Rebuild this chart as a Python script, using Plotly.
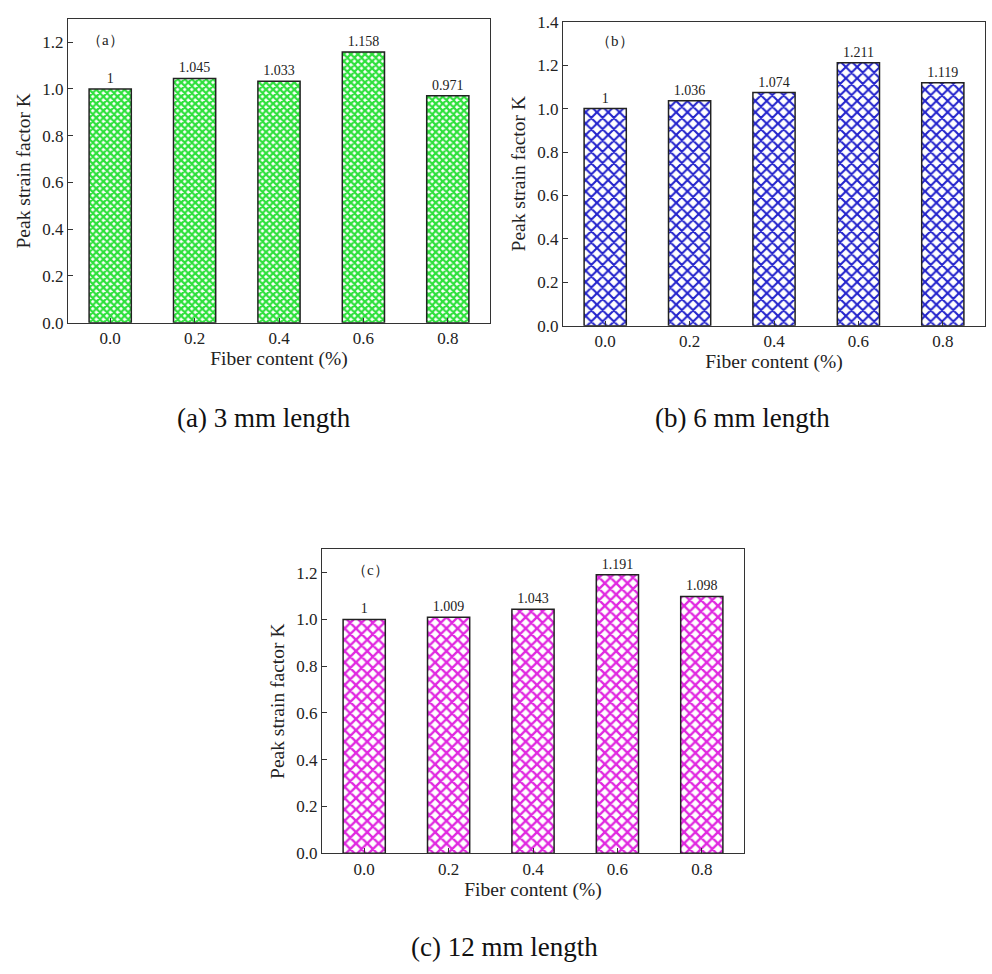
import plotly.graph_objects as go

categories = ["0.0", "0.2", "0.4", "0.6", "0.8"]
values_a = [1.0, 1.045, 1.033, 1.158, 0.971]
values_b = [1.0, 1.036, 1.074, 1.211, 1.119]
values_c = [1.0, 1.009, 1.043, 1.191, 1.098]
y_ticks_a = [0.0, 0.2, 0.4, 0.6, 0.8, 1.0, 1.2]
y_ticks_b = [0.0, 0.2, 0.4, 0.6, 0.8, 1.0, 1.2, 1.4]
y_ticks_c = [0.0, 0.2, 0.4, 0.6, 0.8, 1.0, 1.2]
captions = ["(a) 3 mm length", "(b) 6 mm length", "(c) 12 mm length"]
panel_tags = ["（a）", "（b）", "（c）"]

W, H = 992, 974
FONT = "Liberation Serif, Times New Roman, serif"

panels = [
    dict(vals=values_a, ticks=y_ticks_a, yr=[0, 1.3], color="#2EE03C", size=5, sol=0.7,
         box=(68, 490, 10, 320)),
    dict(vals=values_b, ticks=y_ticks_b, yr=[0, 1.4], color="#2222CC", size=8, sol=0.45,
         box=(563, 985, 13, 323)),
    dict(vals=values_c, ticks=y_ticks_c, yr=[0, 1.3], color="#E028E0", size=8, sol=0.5,
         box=(322, 744, 551, 861)),
]

fig = go.Figure()
layout = dict(width=W, height=H, margin=dict(l=0, r=0, t=0, b=0),
              paper_bgcolor="white", plot_bgcolor="white", showlegend=False,
              font=dict(family=FONT, color="#222"))
for i, p in enumerate(panels):
    n = "" if i == 0 else str(i + 1)
    fig.add_trace(go.Bar(
        x=categories, y=p["vals"], width=0.5,
        text=[f"{v:g}" for v in p["vals"]], textposition="outside",
        constraintext="none",
        textfont=dict(family=FONT, size=14, color="#222"), cliponaxis=False,
        marker=dict(color="white", line=dict(color="#222", width=1.5),
                    pattern=dict(shape="x", fgcolor=p["color"], bgcolor="white",
                                 fgopacity=1, size=p["size"], solidity=p["sol"],
                                 fillmode="replace")),
        xaxis="x" + n, yaxis="y" + n))
    l, r, t, b = p["box"]
    axcommon = dict(showline=True, linecolor="#333", linewidth=1.2, mirror=True,
                    ticks="inside", ticklen=5, tickcolor="#333", showgrid=False,
                    zeroline=False, tickfont=dict(family=FONT, size=17, color="#222"))
    layout["xaxis" + n] = dict(domain=[l / W, r / W], anchor="y" + n,
                               range=[-0.5, 4.5], type="category",
                               title=dict(text="Fiber content (%)", standoff=3,
                                          font=dict(family=FONT, size=19.5, color="#222")),
                               **axcommon)
    layout["yaxis" + n] = dict(domain=[1 - b / H, 1 - t / H], anchor="x" + n,
                               range=p["yr"], tickvals=p["ticks"], tickformat=".1f",
                               title=dict(text="Peak strain factor K", standoff=6,
                                          font=dict(family=FONT, size=19.5, color="#222")),
                               **axcommon)

annotations = []
tag_pos = [(105, 32), (615, 33), (370, 572)]
for tag, (tx, ty) in zip(panel_tags, tag_pos):
    annotations.append(dict(text=tag, x=tx / W, y=1 - ty / H, xref="paper", yref="paper",
                            xanchor="center", yanchor="middle", showarrow=False,
                            font=dict(family=FONT, size=15, color="#222")))
cap_pos = [(264, 417), (742, 417), (505, 957)]
for cap, (cx, cy) in zip(captions, cap_pos):
    annotations.append(dict(text=cap, x=cx / W, y=1 - cy / H, xref="paper", yref="paper",
                            xanchor="center", yanchor="middle", showarrow=False,
                            font=dict(family=FONT, size=27, color="#111")))
layout["annotations"] = annotations
fig.update_layout(**layout)
fig.write_html("out.html")
